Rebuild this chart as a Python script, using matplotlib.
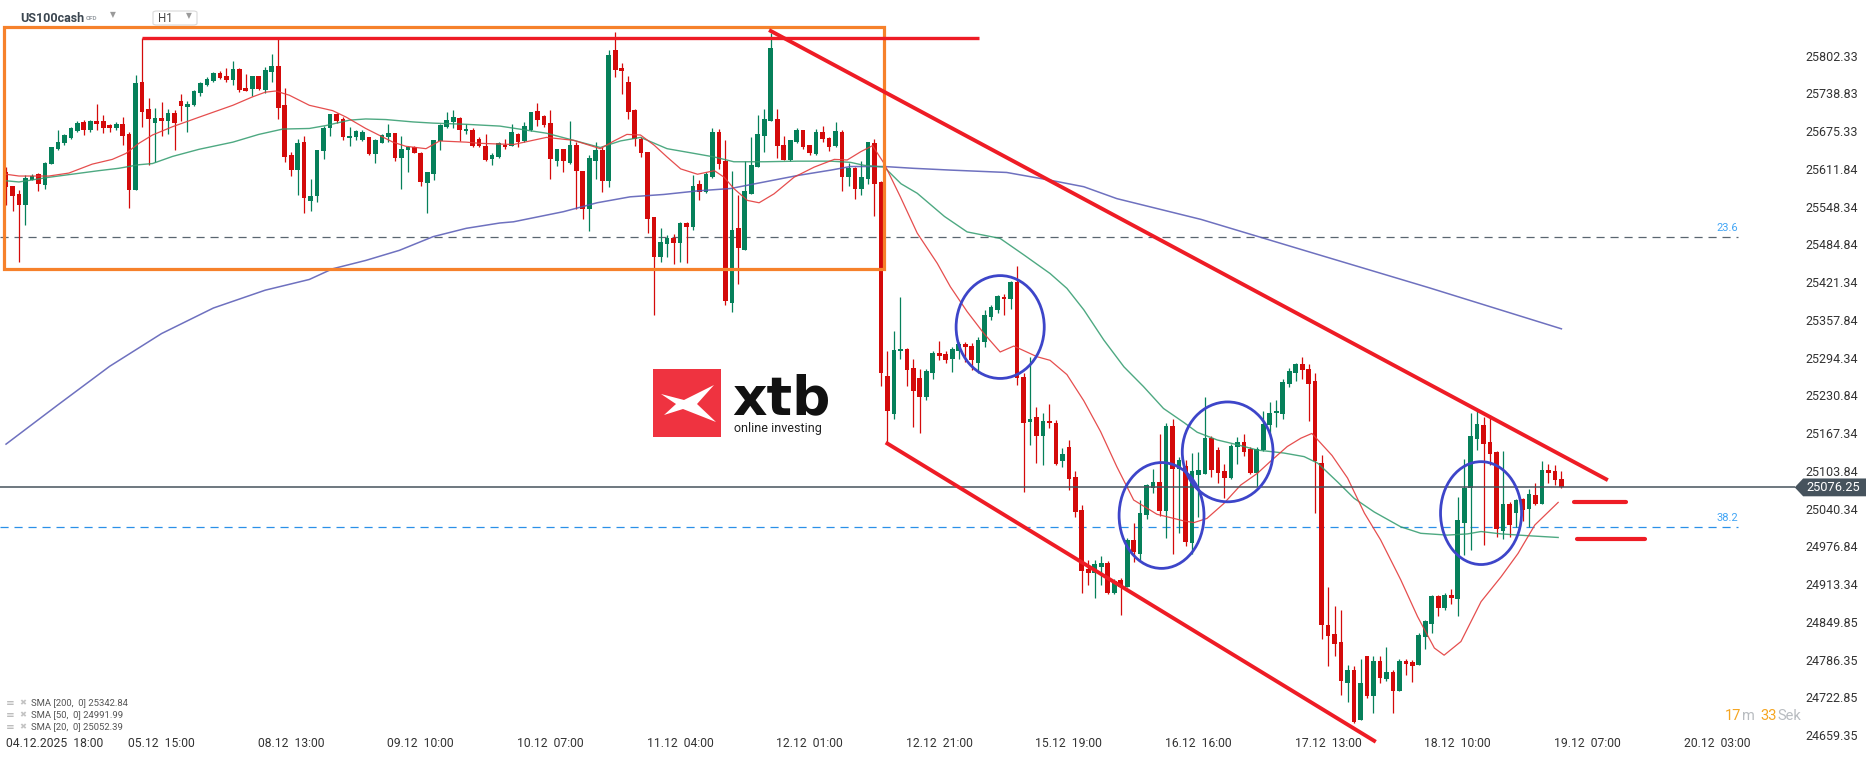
import numpy as np
import matplotlib
matplotlib.use("Agg")
import matplotlib.pyplot as plt
from matplotlib.patches import Rectangle, Ellipse, Polygon, FancyBboxPatch

plt.rcParams['font.family'] = ['Roboto', 'DejaVu Sans']

# ---- candle data (US100cash H1) ----
opens = [25607, 25583, 25569, 25552, 25594, 25603, 25585, 25620, 25646, 25655,
         25664, 25675, 25691, 25678, 25692, 25692, 25685, 25681, 25687, 25670,
         25577, 25759, 25713, 25689, 25697, 25692, 25706, 25726, 25716, 25719,
         25740, 25753, 25760, 25774, 25768, 25761, 25780, 25748, 25746, 25768,
         25744, 25775, 25785, 25719, 25635, 25610, 25657, 25558, 25566, 25642,
         25681, 25704, 25696, 25664, 25665, 25661, 25665, 25637, 25656, 25666,
         25672, 25631, 25643, 25648, 25639, 25588, 25604, 25659, 25683, 25691,
         25698, 25676, 25677, 25662, 25650, 25629, 25632, 25653, 25651, 25671,
         25659, 25678, 25709, 25701, 25689, 25625, 25645, 25622, 25652, 25608,
         25544, 25625, 25644, 25591, 25812, 25781, 25759, 25711, 25663, 25640,
         25531, 25463, 25486, 25495, 25487, 25521, 25514, 25586, 25573, 25598,
         25674, 25625, 25387, 25512, 25475, 25569, 25615, 25667, 25692, 25696,
         25653, 25627, 25657, 25677, 25652, 25637, 25674, 25664, 25650, 25674,
         25598, 25614, 25579, 25595, 25656, 25590, 25264, 25200, 25305, 25309,
         25277, 25260, 25229, 25269, 25302, 25300, 25292, 25306, 25317, 25314,
         25285, 25321, 25363, 25375, 25396, 25393, 25421, 25262, 25187, 25195,
         25162, 25188, 25184, 25120, 25144, 25093, 25038, 24939, 24933, 24943,
         24949, 24898, 24920, 24909, 24988, 24965, 25030, 25075, 25085, 25037,
         25180, 25108, 25113, 24982, 25097, 25099, 25160, 25139, 25103, 25092,
         25144, 25152, 25141, 25101, 25139, 25181, 25201, 25200, 25251, 25269,
         25284, 25275, 25255, 25118, 24844, 24830, 24817, 24748, 24769, 24685,
         24792, 24725, 24785, 24754, 24766, 24734, 24784, 24782, 24777, 24825,
         24847, 24894, 24874, 24895, 24889, 25017, 25075, 25158, 25181, 25153,
         25136, 25003, 25048, 25034, 25056, 25040, 25063, 25048, 25106, 25104,
         25090]
highs = [25615, 25584, 25577, 25601, 25603, 25605, 25624, 25649, 25678, 25671,
         25683, 25693, 25695, 25695, 25721, 25702, 25687, 25691, 25699, 25674,
         25770, 25833, 25732, 25715, 25724, 25712, 25711, 25738, 25727, 25744,
         25759, 25767, 25775, 25777, 25781, 25794, 25781, 25771, 25769, 25769,
         25784, 25806, 25831, 25748, 25641, 25662, 25668, 25595, 25643, 25684,
         25705, 25706, 25699, 25683, 25677, 25677, 25666, 25663, 25671, 25687,
         25672, 25667, 25650, 25650, 25641, 25607, 25661, 25688, 25708, 25711,
         25699, 25688, 25680, 25666, 25670, 25639, 25658, 25662, 25687, 25672,
         25691, 25708, 25722, 25702, 25711, 25646, 25646, 25692, 25657, 25609,
         25635, 25658, 25649, 25812, 25842, 25790, 25769, 25712, 25665, 25640,
         25531, 25512, 25500, 25502, 25523, 25523, 25601, 25594, 25607, 25681,
         25679, 25660, 25608, 25568, 25625, 25666, 25702, 25712, 25840, 25712,
         25667, 25661, 25681, 25678, 25653, 25679, 25684, 25666, 25691, 25678,
         25622, 25615, 25625, 25657, 25662, 25591, 25306, 25339, 25397, 25310,
         25292, 25275, 25275, 25305, 25323, 25305, 25313, 25321, 25321, 25319,
         25329, 25375, 25383, 25400, 25402, 25423, 25448, 25268, 25296, 25212,
         25201, 25217, 25190, 25142, 25156, 25103, 25047, 24954, 24954, 24961,
         24953, 24922, 24923, 24991, 25016, 25055, 25082, 25108, 25166, 25184,
         25192, 25128, 25122, 25134, 25136, 25228, 25162, 25144, 25116, 25150,
         25161, 25166, 25144, 25144, 25204, 25220, 25223, 25258, 25277, 25286,
         25296, 25284, 25268, 25131, 24909, 24877, 24870, 24777, 24776, 24787,
         24792, 24792, 24792, 24807, 24769, 24787, 24787, 24786, 24831, 24853,
         24895, 24895, 24898, 24906, 25060, 25124, 25201, 25207, 25194, 25198,
         25138, 25138, 25052, 25056, 25058, 25073, 25083, 25120, 25116, 25114,
         25103]
lows = [25551, 25541, 25456, 25517, 25593, 25575, 25578, 25620, 25644, 25653,
        25662, 25674, 25669, 25674, 25678, 25672, 25674, 25678, 25653, 25546,
        25577, 25683, 25619, 25623, 25667, 25670, 25643, 25693, 25674, 25717,
        25734, 25751, 25758, 25764, 25758, 25753, 25741, 25743, 25734, 25744,
        25739, 25758, 25696, 25624, 25600, 25568, 25538, 25541, 25556, 25628,
        25667, 25690, 25660, 25650, 25660, 25659, 25636, 25622, 25655, 25657,
        25626, 25579, 25607, 25638, 25583, 25537, 25593, 25643, 25680, 25681,
        25659, 25670, 25648, 25649, 25626, 25619, 25631, 25646, 25650, 25648,
        25657, 25676, 25684, 25683, 25595, 25617, 25606, 25621, 25544, 25527,
        25507, 25595, 25573, 25582, 25767, 25738, 25696, 25650, 25632, 25504,
        25366, 25456, 25464, 25452, 25456, 25454, 25510, 25559, 25572, 25597,
        25611, 25383, 25371, 25418, 25475, 25569, 25615, 25641, 25692, 25630,
        25627, 25625, 25656, 25646, 25636, 25636, 25657, 25642, 25649, 25575,
        25584, 25562, 25568, 25587, 25533, 25246, 25150, 25192, 25292, 25246,
        25177, 25167, 25224, 25258, 25291, 25285, 25271, 25292, 25288, 25274,
        25268, 25313, 25358, 25369, 25366, 25377, 25248, 25069, 25148, 25117,
        25114, 25176, 25114, 25110, 25072, 25027, 24898, 24912, 24890, 24912,
        24897, 24897, 24862, 24908, 24951, 24954, 25023, 25066, 25028, 24991,
        24965, 24999, 24977, 24965, 25027, 25099, 25094, 25083, 25058, 25090,
        25116, 25129, 25099, 25079, 25137, 25162, 25177, 25191, 25245, 25256,
        25258, 25188, 25034, 24821, 24775, 24793, 24727, 24716, 24680, 24685,
        24722, 24697, 24748, 24750, 24697, 24733, 24761, 24749, 24777, 24804,
        24831, 24860, 24870, 24880, 24860, 24963, 24971, 25139, 24979, 25114,
        24992, 24989, 24993, 25010, 25019, 25010, 25047, 25048, 25084, 25080,
        25075]
closes = [25582, 25566, 25552, 25597, 25600, 25586, 25622, 25648, 25657, 25669,
          25681, 25690, 25677, 25693, 25687, 25681, 25680, 25687, 25667, 25577,
          25757, 25708, 25696, 25697, 25692, 25706, 25689, 25718, 25721, 25743,
          25757, 25763, 25774, 25765, 25761, 25780, 25744, 25743, 25768, 25746,
          25778, 25785, 25714, 25632, 25610, 25656, 25563, 25566, 25643, 25681,
          25704, 25693, 25666, 25668, 25676, 25674, 25637, 25661, 25669, 25672,
          25631, 25646, 25649, 25639, 25590, 25606, 25660, 25685, 25694, 25699,
          25677, 25679, 25650, 25650, 25627, 25635, 25655, 25649, 25674, 25657,
          25684, 25707, 25695, 25685, 25628, 25645, 25625, 25652, 25608, 25544,
          25630, 25643, 25591, 25803, 25778, 25777, 25708, 25663, 25639, 25527,
          25463, 25489, 25496, 25487, 25521, 25514, 25584, 25573, 25604, 25674,
          25621, 25390, 25510, 25479, 25574, 25618, 25670, 25696, 25815, 25650,
          25627, 25660, 25677, 25649, 25639, 25674, 25662, 25649, 25675, 25598,
          25614, 25579, 25598, 25657, 25586, 25269, 25204, 25307, 25309, 25273,
          25239, 25229, 25272, 25302, 25297, 25291, 25309, 25317, 25313, 25291,
          25324, 25366, 25379, 25398, 25393, 25422, 25260, 25184, 25192, 25162,
          25188, 25184, 25115, 25132, 25091, 25035, 24935, 24933, 24947, 24949,
          24898, 24919, 24909, 24988, 24967, 25033, 25080, 25085, 25037, 25180,
          25108, 25122, 24985, 25103, 25106, 25160, 25106, 25101, 25092, 25146,
          25152, 25136, 25101, 25141, 25183, 25202, 25205, 25254, 25272, 25284,
          25273, 25251, 25120, 24845, 24826, 24813, 24750, 24769, 24682, 24748,
          24725, 24785, 24756, 24766, 24734, 24784, 24779, 24776, 24828, 24852,
          24894, 24874, 24896, 24890, 25021, 25075, 25163, 25183, 25150, 25132,
          25006, 25049, 25013, 25055, 25039, 25065, 25048, 25106, 25101, 25088,
          25076.25]

# moving averages (bar index, value)
sma20_x = [0, 2, 6.6, 9.7, 13.3, 16.4, 18.5, 20.5, 22.6, 25.7, 29.8, 35, 38, 40, 41.6,
           43.7, 46.8, 50.4, 52.5, 55.5, 59.7, 61.7, 64.8, 66.9, 71, 73.1, 78.3, 83.4,
           87.6, 91.7, 93.8, 95.8, 97.9, 100, 102, 104.1, 106.7, 109.3, 110.8, 112.3,
           114.4, 116.2, 118.5, 121.6, 124.7, 127.8, 129.8, 131.9, 133.7, 135.5, 138,
           140.6, 143.7, 145.7, 148.3, 150.9, 153.4, 155.5, 159.1, 161.1, 163.7, 166.3,
           168.9, 171.4, 174, 177.6, 181.7, 183.3, 185.3, 187.9, 190.5, 193.1, 195.1,
           197.7, 199.8, 201.5, 204.6, 207, 209.6, 212.1, 215.2, 217.8, 220.4, 221.9,
           224.5, 227.6, 230.7, 233.3, 235.9, 239.5]
sma20_v = [25603, 25600, 25600, 25605, 25620, 25628, 25638, 25655, 25669, 25683, 25699,
           25719, 25733, 25741, 25743, 25736, 25719, 25710, 25699, 25680, 25657, 25650,
           25646, 25659, 25657, 25655, 25653, 25665, 25660, 25646, 25659, 25670, 25669,
           25652, 25632, 25612, 25603, 25609, 25598, 25579, 25559, 25555, 25570, 25598,
           25615, 25628, 25627, 25641, 25651, 25621, 25565, 25504, 25453, 25414, 25372,
           25335, 25304, 25314, 25296, 25290, 25266, 25222, 25170, 25111, 25055, 25031,
           25020, 25017, 25024, 25049, 25080, 25100, 25120, 25145, 25159, 25167, 25130,
           25092, 25033, 24988, 24921, 24859, 24806, 24794, 24817, 24884, 24926, 24965,
           25013, 25051]
sma50_x = [0, 2, 6.7, 14.3, 17.4, 20.5, 22.6, 25.7, 29.8, 35, 39, 42.7, 46.8, 49.4, 53,
           55.5, 58.6, 62.8, 65.9, 71, 76.2, 83.4, 87.6, 91.7, 94.8, 97.9, 102, 106.2,
           109.3, 112.3, 117, 122.2, 127.3, 130.3, 132.4, 135.5, 138.1, 140.6, 144.8,
           148.3, 153.4, 157.1, 161.1, 163.7, 166.3, 169.4, 172.5, 175.5, 178.6, 181.8,
           183.8, 186.9, 190, 193.1, 197.2, 200.3, 202.4, 205.5, 208, 211.1, 215.2,
           218.3, 222.4, 225.5, 227.6, 230.7, 234.8, 239.5]
sma50_v = [25592, 25590, 25598, 25609, 25613, 25619, 25621, 25633, 25645, 25657, 25670,
           25679, 25680, 25685, 25694, 25696, 25695, 25691, 25689, 25687, 25684, 25672,
           25660, 25648, 25659, 25665, 25646, 25638, 25632, 25624, 25624, 25625, 25625,
           25623, 25618, 25615, 25587, 25571, 25532, 25506, 25495, 25467, 25436, 25411,
           25375, 25324, 25279, 25246, 25209, 25185, 25169, 25156, 25148, 25139, 25134,
           25128, 25117, 25085, 25058, 25035, 25010, 24999, 24996, 24998, 25002, 24998,
           24995, 24992]
sma200_x = [0, 8, 16, 24, 32, 40, 46.8, 50.4, 55.5, 60.7, 65.9, 71, 76.2, 78.3, 86, 91.2,
            96.3, 101.5, 106.7, 111.8, 117, 122.2, 127.3, 130.3, 135.5, 140, 145.7, 154.4,
            161.1, 166.3, 171.4, 176.6, 181.8, 184.4, 201.2, 219.6, 240]
sma200_v = [25149, 25215, 25280, 25335, 25378, 25408, 25426, 25444, 25458, 25475, 25498,
            25512, 25521, 25523, 25540, 25555, 25565, 25569, 25575, 25579, 25590, 25601,
            25610, 25616, 25616, 25613, 25610, 25606, 25593, 25582, 25562, 25548, 25534,
            25527, 25472, 25412, 25343]
sma_names = ['SMA [200,  0] 25342.84', 'SMA [50,  0] 24991.99', 'SMA [20,  0] 25052.39']

ytick_vals = [25802.33, 25738.83, 25675.33, 25611.84, 25548.34, 25484.84, 25421.34,
              25357.84, 25294.34, 25230.84, 25167.34, 25103.84, 25040.34, 24976.84,
              24913.34, 24849.85, 24786.35, 24722.85, 24659.35]
xtick_pos = [0, 24, 44, 64, 84, 104, 124, 144, 164, 184, 204, 224, 244, 264]
xtick_labels = ['04.12.2025  18:00', '05.12  15:00', '08.12  13:00', '09.12  10:00',
                '10.12  07:00', '11.12  04:00', '12.12  01:00', '12.12  21:00',
                '15.12  19:00', '16.12  16:00', '17.12  13:00', '18.12  10:00',
                '19.12  07:00', '20.12  03:00']
last_price = 25076.25
fib_levels = [25497.5, 25009.6]
fib_names = ['23.6', '38.2']

# ---- figure ----
W, H = 1866, 761
fig = plt.figure(figsize=(W / 100, H / 100), dpi=100)
ax = fig.add_axes([0, 0, 1, 1])
ax.set_xlim(-0.93, 287.0)
ax.set_ylim(24616.0, 25896.1)
for s in ax.spines.values():
    s.set_visible(False)


def fx(px):
    return px / W


def fy(py):
    return 1 - py / H


GREEN = '#06805a'
RED = '#d40a0a'

o = np.array(opens, float)
c = np.array(closes, float)
x = np.arange(len(o))
up = c >= o
cols = np.where(up, GREEN, RED)
ax.vlines(x, lows, highs, colors=cols, lw=0.9, zorder=3)
ax.bar(x, np.maximum(np.abs(c - o), 1.8), bottom=np.minimum(o, c), width=0.72,
       color=cols, lw=0, zorder=3)

# moving averages
ax.plot(sma200_x, sma200_v, color='#5558b4', lw=1.1, alpha=0.85, zorder=4)
ax.plot(sma50_x, sma50_v, color='#2f9a6c', lw=1.0, alpha=0.85, zorder=4)
ax.plot(sma20_x, sma20_v, color='#e33b3b', lw=0.9, alpha=0.9, zorder=4)

# fibonacci levels
fib_cols = ['#5a6670', '#2b90e8']
for lvl, name, fc in zip(fib_levels, fib_names, fib_cols):
    ax.hlines(lvl, -1, 267.3, colors=fc, linestyles=(0, (6.5, 4.7)), lw=0.9, zorder=2)
    ax.annotate(name, (267.3, lvl), xytext=(0, 3), textcoords='offset points',
                ha='right', va='bottom', color='#42a5f5', fontsize=8)

# last price line + tag
ax.hlines(last_price, -1, 276, colors='#46535d', lw=1.1, zorder=5)
tag = Polygon([(276, last_price), (277.3, last_price + 15), (287.2, last_price + 15),
               (287.2, last_price - 15), (277.3, last_price - 15)],
              closed=True, fc='#46535d', ec='none', zorder=6, clip_on=False)
ax.add_patch(tag)
ax.text(277.8, last_price, f'{last_price:.2f}', color='white', fontsize=9.3,
        va='center', ha='left', zorder=7)

# drawings: range box, resistance, channel
ax.add_patch(Rectangle((-0.3, 25443.6), 135.8, 407.6, fill=False, ec='#f6812b',
                       lw=2.3, zorder=6))
ax.plot([21, 150.2], [highs[21], highs[21]], color='#ee1c25', lw=2.4, zorder=6,
        solid_capstyle='butt')
ax.plot([118, 246.9], [25844, 25090], color='#ee1c25', lw=2.8, zorder=6)
ax.plot([136, 211.1], [lows[136], 24650], color='#ee1c25', lw=2.8, zorder=6,
        clip_on=False)
ax.plot([241.9, 250.0], [25051, 25051], color='#ee1c25', lw=3.0, zorder=6,
        solid_capstyle='round')
ax.plot([242.4, 252.9], [24989, 24989], color='#ee1c25', lw=3.0, zorder=6,
        solid_capstyle='round')
for cx, cy, ew, eh in [(153.4, 25346, 13.6, 173), (178.3, 25029, 13.1, 178),
                       (188.5, 25136, 14.0, 168), (227.6, 25033, 12.5, 173)]:
    ax.add_patch(Ellipse((cx, cy), ew, eh, fill=False, ec='#3d45c9', lw=2.0, zorder=7))

# axes ticks
ax.yaxis.tick_right()
ax.set_yticks(ytick_vals, [f'{v:.2f}' for v in ytick_vals])
ax.tick_params(axis='y', length=0, pad=-43.5, labelsize=9, labelcolor='#333333')
ax.set_xticks(xtick_pos, xtick_labels)
ax.tick_params(axis='x', length=0, pad=-17.5, labelsize=8.7, labelcolor='#333333')
ax.get_xticklabels()[0].set_ha('left')

# header
ax.text(fx(20), fy(18), 'US100cash', transform=ax.transAxes, fontsize=9,
        fontweight='bold', color='#3b4650', va='center')
ax.text(fx(86), fy(19), 'CFD', transform=ax.transAxes, fontsize=4.6,
        fontweight='bold', color='#9aa0a6', va='center')
ax.text(fx(110), fy(15), '▼', transform=ax.transAxes, fontsize=5.5,
        color='#9a9a9a', va='center', family='DejaVu Sans')
ax.add_patch(FancyBboxPatch((fx(153), fy(25)), 44 / W, 14 / H, transform=ax.transAxes,
                            boxstyle='round,pad=0,rounding_size=0.002',
                            fc='white', ec='#d9d9d9', lw=0.8))
ax.text(fx(158), fy(19), 'H1', transform=ax.transAxes, fontsize=8.3,
        color='#444444', va='center')
ax.text(fx(186), fy(16), '▼', transform=ax.transAxes, fontsize=5.5,
        color='#9a9a9a', va='center', family='DejaVu Sans')

# indicator legend
for k, name in enumerate(sma_names):
    yy = fy(703 + 12 * k)
    ax.text(fx(6), yy, '≡', transform=ax.transAxes, fontsize=7.5, color='#b0b0b0',
            va='center', family='DejaVu Sans')
    ax.text(fx(19), yy, '✖', transform=ax.transAxes, fontsize=6, color='#c4c4c4',
            va='center', family='DejaVu Sans')
    ax.text(fx(31), yy, name, transform=ax.transAxes, fontsize=6.8, color='#555555',
            va='center')

# countdown
for px, txt, col in [(1725, '17', '#f5a623'), (1742, 'm', '#b8bcc0'),
                     (1760, '33', '#f5a623'), (1777, 'Sek', '#b8bcc0')]:
    ax.text(fx(px), fy(716), txt, transform=ax.transAxes, fontsize=10.5, color=col,
            va='center')

# xtb logo
ax.add_patch(Rectangle((fx(653), fy(437)), 68 / W, 68 / H, transform=ax.transAxes,
                       fc='#ef3340', ec='none', zorder=8))
xmark = [(661, 394), (684, 400), (714, 385), (697, 404), (716, 422), (683, 409),
         (664, 415), (676, 404)]
ax.add_patch(Polygon([(fx(a), fy(b)) for a, b in xmark], closed=True,
                     transform=ax.transAxes, fc='white', ec='none', zorder=9))
ax.text(fx(732), fy(414), 'xtb', transform=ax.transAxes, fontsize=38.5,
        fontweight='heavy', family='DejaVu Sans', color='#111111', va='baseline',
        zorder=9)
ax.text(fx(734), fy(432), 'online investing', transform=ax.transAxes, fontsize=9,
        color='#222222', va='baseline', zorder=9)

fig.savefig('out.png', dpi=100, facecolor='white')
